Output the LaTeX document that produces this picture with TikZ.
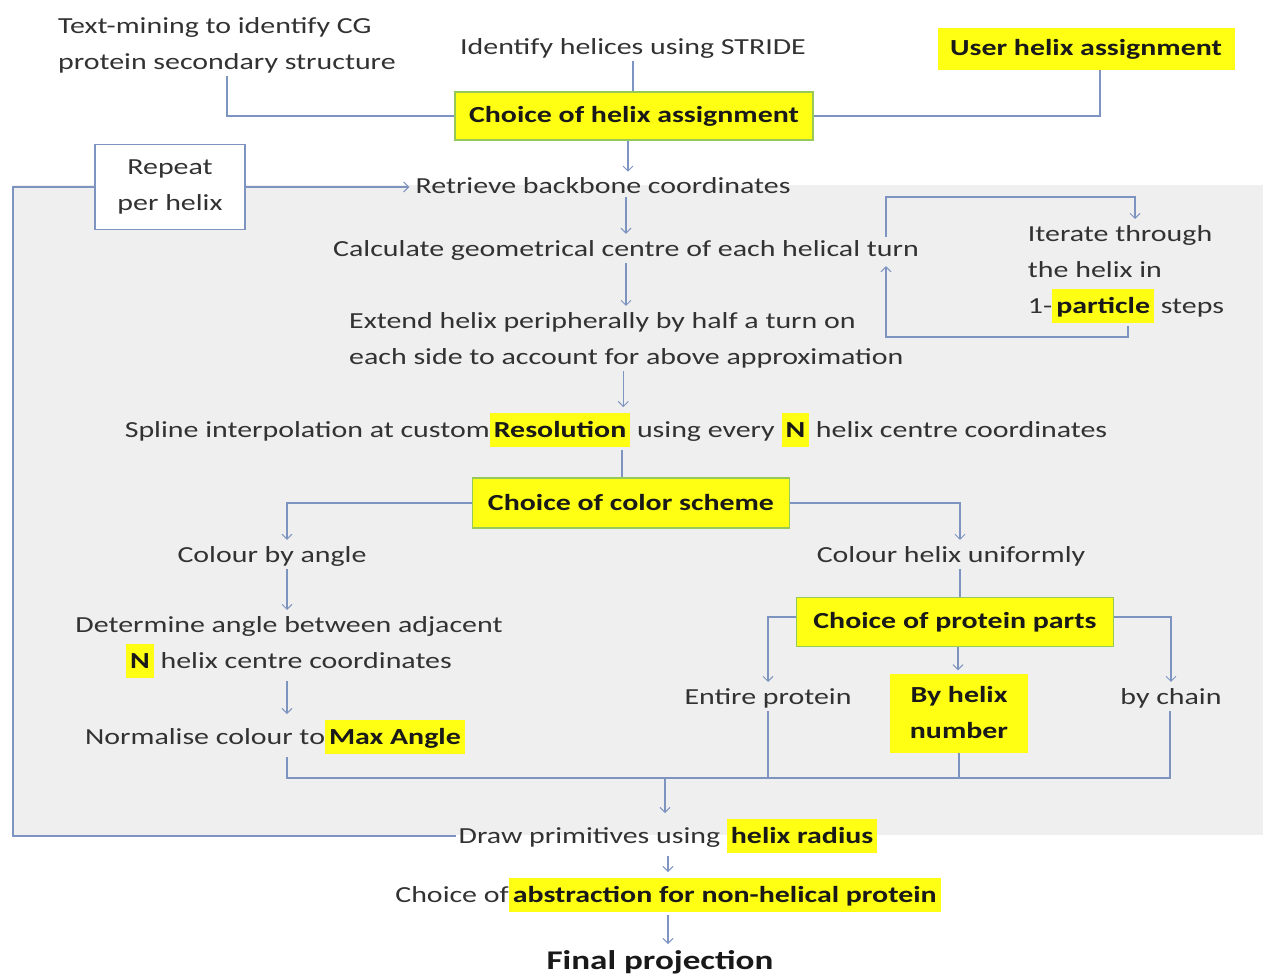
\documentclass[tikz,border=0pt]{standalone}
\usepackage{fontspec}
\setmainfont{Carlito}[FakeStretch=1.3]
\usetikzlibrary{arrows.meta}
\definecolor{lnc}{RGB}{125,148,192}
\definecolor{bgg}{RGB}{239,239,239}
\definecolor{hly}{RGB}{255,255,20}
\definecolor{grb}{RGB}{150,200,90}
\definecolor{txc}{RGB}{50,50,50}
\newcommand{\yel}[1]{{\setlength{\fboxsep}{0pt}\colorbox{hly}{\hspace{4pt}\rule[-0.42em]{0pt}{1.45em}\textbf{\color{black!90}#1}\hspace{4pt}}}}
\tikzset{
  ln/.style={draw=lnc,line width=1.3pt},
  arr/.style={ln,shorten >=3pt,-{Straight Barb[length=5pt,width=10pt,line width=1pt]}},
  txt/.style={text=txc,inner sep=3pt,font=\fontsize{23}{36}\selectfont},
  ybox/.style={txt,fill=hly,text=black!90,font=\fontsize{23}{36}\selectfont\bfseries},
  gbox/.style={ybox,draw=grb,line width=1.2pt}
}
\begin{document}
\begin{tikzpicture}[x=1pt,y=-1pt]
\useasboundingbox (0,0) rectangle (1263,978);
\fill[bgg] (13,185) rectangle (1263,835);
% top
\node[txt,anchor=west,align=left] (tm) at (55,45) {Text-mining to identify CG\\protein secondary structure};
\node[txt] (stride) at (633,48) {Identify helices using STRIDE};
\node[ybox,minimum width=297pt,minimum height=42pt] (user) at (1086,49) {User helix assignment};
\node[gbox,minimum width=358pt,minimum height=48pt] (cha) at (634,116) {Choice of helix assignment};
\draw[ln] (tm.south) |- (cha.west);
\draw[ln] (stride.south) -- (stride.south |- cha.north);
\draw[ln] ([xshift=14pt]user.south) |- (cha.east);
% main column
\node[txt] (ret) at (603,186) {Retrieve backbone coordinates};
\node[txt,draw=lnc,fill=white,line width=1.2pt,align=center,minimum width=150pt,minimum height=85pt] (rep) at (170,187) {Repeat\\per helix};
\draw[arr] ([xshift=-6pt]cha.south) -- ([xshift=-6pt]cha.south |- ret.north);
\draw[arr] (rep.east) -- (rep.east -| ret.west);
\node[txt] (calc) at (626,250) {Calculate geometrical centre of each helical turn};
\draw[arr] ([xshift=23pt]ret.south) -- ([xshift=23pt]ret.south |- calc.north);
\node[txt,anchor=west,align=left] (ext) at (346,340) {Extend helix peripherally by half a turn on\\each side to account for above approximation};
\draw[arr] (calc.south) -- (calc.south |- ext.north);
\node[txt,align=left] (it) at (1126,274) {Iterate through\\the helix in\\1-\yel{particle} steps};
\coordinate (c1) at (886,197);
\coordinate (c2) at (1135,197);
\coordinate (c3) at (1128,337);
\coordinate (c4) at (886,337);
\draw[arr] (calc.north -| c1) -- (c1) -- (c2) -- (c2 |- it.north);
\draw[arr] (it.south -| c3) -- (c3) -- (c4) -- (c4 |- calc.south);
\node[txt] (spl) at (616,430) {Spline interpolation at custom\yel{Resolution} using every \yel{N} helix centre coordinates};
\draw[arr] ([xshift=-3pt]ext.south) -- ([xshift=-3pt]ext.south |- spl.north);
\node[gbox,minimum width=317pt,minimum height=50pt] (ccs) at (631,503) {Choice of color scheme};
\draw[ln] ([xshift=6pt]spl.south) -- ([xshift=6pt]spl.south |- ccs.north);
% left branch
\node[txt] (cba) at (272,556) {Colour by angle};
\node[txt,align=center] (det) at (289,647) {Determine angle between adjacent\\\yel{N} helix centre coordinates};
\node[txt] (nor) at (275,737) {Normalise colour to\yel{Max Angle}};
\coordinate (lx) at (287,0);
\draw[arr] (ccs.west) -| (cba.north -| lx);
\draw[arr] (cba.south -| lx) -- (det.north -| lx);
\draw[arr] (det.south -| lx) -- (nor.north -| lx);
% right branch
\node[txt] (chu) at (951,556) {Colour helix uniformly};
\coordinate (rx) at (960,0);
\draw[arr] (ccs.east) -| (chu.north -| rx);
\node[gbox,minimum width=317pt,minimum height=49pt] (cpp) at (955,622) {Choice of protein parts};
\draw[ln] (chu.south -| rx) -- (cpp.north -| rx);
\node[txt] (ent) at (768,698) {Entire protein};
\node[ybox,align=center,minimum width=138pt,minimum height=79pt] (byh) at (959,713) {By helix\\number};
\node[txt] (byc) at (1171,698) {by chain};
\draw[arr] ([yshift=5pt]cpp.west) -| (ent.north);
\draw[arr] ([xshift=3pt]cpp.south) -- ([xshift=3pt]cpp.south |- byh.north);
\draw[arr] ([yshift=5pt]cpp.east) -| (byc.north);
% merge
\coordinate (bl) at (287,778);
\coordinate (br) at (1170,778);
\coordinate (mg) at (665,778);
\draw[ln] (nor.south -| bl) -- (bl) -- (br) -- (byc.south -| br);
\draw[ln] (ent.south) -- (ent.south |- bl);
\draw[ln] (byh.south) -- (byh.south |- bl);
% bottom
\node[txt] (drw) at (668,836) {Draw primitives using \yel{helix radius}};
\draw[arr] (mg) -- (drw.north -| mg);
\coordinate (lp) at (13,187);
\draw[ln] (rep.west) -- (lp) |- (drw.west);
\node[txt] (abs) at (668,895) {Choice of\yel{abstraction for non-helical protein}};
\draw[arr] (drw.south) -- (drw.south |- abs.north);
\node[txt,text=black!90,font=\fontsize{27}{34}\selectfont\bfseries] (fin) at (660,962) {Final projection};
\draw[arr] (abs.south) -- (abs.south |- fin.north);
\end{tikzpicture}
\end{document}
